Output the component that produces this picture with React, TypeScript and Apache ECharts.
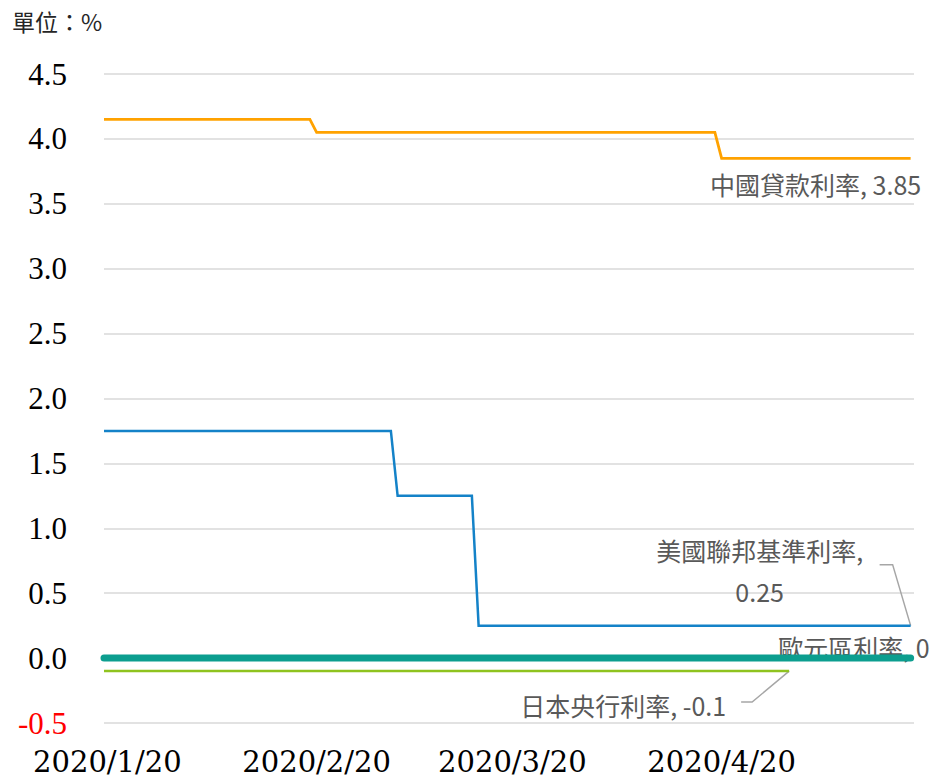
import React, { useEffect, useRef } from "react";
import * as echarts from "echarts";

// ---- data ----
const chinaDates = ["2020-01-19 12:00", "2020-02-19", "2020-02-20", "2020-04-19", "2020-04-20", "2020-05-18"];
const chinaValues = [4.15, 4.15, 4.05, 4.05, 3.85, 3.85];

const usDates = ["2020-01-19 12:00", "2020-03-02", "2020-03-03", "2020-03-14", "2020-03-15", "2020-05-18"];
const usValues = [1.75, 1.75, 1.25, 1.25, 0.25, 0.25];

const ecbDates = ["2020-01-19 12:00", "2020-05-18"];
const ecbValues = [0, 0];

const japanDates = ["2020-01-19 12:00", "2020-04-30"];
const japanValues = [-0.1, -0.1];

const xTickDates = ["2020-01-20", "2020-02-20", "2020-03-20", "2020-04-20"];
const xRange = ["2020-01-19 12:00", "2020-05-18 12:00"];

const yMin = -0.5;
const yMax = 4.5;
const yInterval = 0.5;

const seriesNames = ["中國貸款利率", "美國聯邦基準利率", "歐元區利率", "日本央行利率"];

function ts(s: string): number {
  const [d, tm] = s.split(" ");
  const [y, m, dd] = d.split("-").map(Number);
  const h = tm ? Number(tm.split(":")[0]) : 0;
  return new Date(y, m - 1, dd, h).getTime();
}

function pairs(dates: string[], values: number[]) {
  return dates.map((d, i) => [ts(d), values[i]]);
}

const LABEL_FONT = '"Noto Sans CJK TC", "Noto Sans", sans-serif';
const LABEL_COLOR = "#595959";
const LEADER_COLOR = "#a6a6a6";

export default function App() {
  const ref = useRef<HTMLDivElement>(null);

  useEffect(() => {
    if (!ref.current) return;
    const chart = echarts.init(ref.current, null, { renderer: "svg" });

    const lineSeries = (name: string, data: number[][], color: string, width: number, cap = "butt") => ({
      name,
      type: "line",
      data,
      symbol: "none",
      showSymbol: false,
      smooth: false,
      lineStyle: { color, width, cap, join: "miter" },
      itemStyle: { color },
      emphasis: { disabled: true },
      silent: true,
    });

    chart.setOption({
      animation: false,
      backgroundColor: "#ffffff",
      grid: { left: 104, right: 17, top: 74, bottom: 54, containLabel: false, outerBoundsMode: "none" },
      xAxis: {
        type: "value",
        min: ts(xRange[0]),
        max: ts(xRange[1]),
        scale: true,
        axisLine: { show: false },
        axisTick: { show: false },
        splitLine: { show: false },
        axisLabel: {
          customValues: xTickDates.map(ts),
          formatter: (v: number) => {
            const d = new Date(v);
            return `${d.getFullYear()}/${d.getMonth() + 1}/${d.getDate()}`;
          },
          fontFamily: '"DejaVu Serif", serif',
          fontSize: 29,
          color: "#000000",
          margin: 24,
          hideOverlap: false,
          showMinLabel: true,
          showMaxLabel: true,
        },
      },
      yAxis: {
        type: "value",
        min: yMin,
        max: yMax,
        interval: yInterval,
        axisLine: { show: false },
        axisTick: { show: false },
        splitLine: { show: true, lineStyle: { color: "#d9d9d9", width: 1.5 } },
        axisLabel: {
          formatter: (v: number) => (v < 0 ? `{neg|${v.toFixed(1)}}` : `{pos|${v.toFixed(1)}}`),
          margin: 37,
          rich: {
            neg: { color: "#ff0000", fontFamily: '"Liberation Serif", serif', fontSize: 31 },
            pos: { color: "#000000", fontFamily: '"Liberation Serif", serif', fontSize: 31 },
          },
        },
      },
      series: [
        lineSeries(seriesNames[3], pairs(japanDates, japanValues), "#8fc31f", 2.5),
        lineSeries(seriesNames[2], pairs(ecbDates, ecbValues), "#0c9e8f", 7, "round"),
        lineSeries(seriesNames[1], pairs(usDates, usValues), "#1482c8", 2.5),
        lineSeries(seriesNames[0], pairs(chinaDates, chinaValues), "#ffa200", 2.8),
      ],
    });

    const px = (d: string, v: number) => chart.convertToPixel({ gridIndex: 0 }, [ts(d), v]) as number[];

    const chinaEnd = px(chinaDates[chinaDates.length - 1], chinaValues[chinaValues.length - 1]);
    const usEnd = px(usDates[usDates.length - 1], usValues[usValues.length - 1]);
    const ecbEnd = px(ecbDates[ecbDates.length - 1], ecbValues[ecbValues.length - 1]);
    const jpEnd = px(japanDates[japanDates.length - 1], japanValues[japanValues.length - 1]);

    const textStyle = (text: string, align: string) => ({
      text,
      fill: LABEL_COLOR,
      font: `25px ${LABEL_FONT}`,
      align,
      verticalAlign: "middle",
    });

    chart.setOption({
      graphic: [
        {
          type: "text",
          left: 12,
          top: 9,
          style: { text: "單位：%", fill: "#262626", font: `23px ${LABEL_FONT}` },
          silent: true,
        },
        {
          type: "text",
          x: chinaEnd[0] - 95,
          y: chinaEnd[1] + 26,
          style: textStyle(`${seriesNames[0]}, ${chinaValues[chinaValues.length - 1].toFixed(2)}`, "center"),
          silent: true,
        },
        {
          type: "text",
          x: usEnd[0] - 151,
          y: usEnd[1] - 55,
          style: {
            ...textStyle(`${seriesNames[1]},\n${usValues[usValues.length - 1].toFixed(2)}`, "center"),
            lineHeight: 41,
          },
          silent: true,
        },
        {
          type: "polyline",
          shape: {
            points: [
              [usEnd[0] - 31, usEnd[1] - 61],
              [usEnd[0] - 18, usEnd[1] - 61],
              [usEnd[0], usEnd[1]],
            ],
          },
          style: { stroke: LEADER_COLOR, lineWidth: 1.5, fill: null },
          silent: true,
        },
        {
          type: "text",
          x: ecbEnd[0] + 19,
          y: ecbEnd[1] - 11,
          style: textStyle(`${seriesNames[2]}, ${ecbValues[ecbValues.length - 1]}`, "right"),
          silent: true,
        },
        {
          type: "text",
          x: jpEnd[0] - 63,
          y: jpEnd[1] + 34,
          style: textStyle(`${seriesNames[3]}, ${japanValues[japanValues.length - 1]}`, "right"),
          silent: true,
        },
        {
          type: "polyline",
          shape: {
            points: [
              [jpEnd[0] - 48, jpEnd[1] + 31],
              [jpEnd[0] - 37, jpEnd[1] + 31],
              [jpEnd[0], jpEnd[1]],
            ],
          },
          style: { stroke: LEADER_COLOR, lineWidth: 1.5, fill: null },
          silent: true,
        },
      ],
    });

    return () => chart.dispose();
  }, []);

  return (
    <div
      ref={ref}
      style={{ position: "fixed", left: 0, top: 0, width: 931, height: 777, background: "#fff" }}
    />
  );
}
